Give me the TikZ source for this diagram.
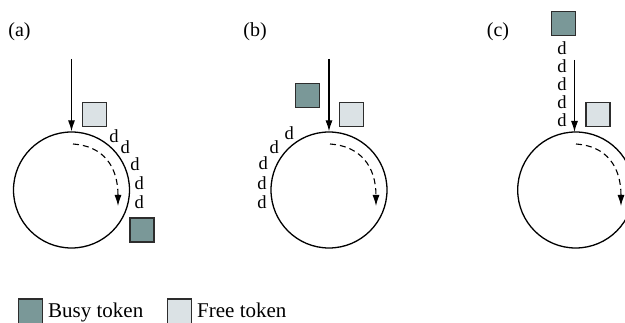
\documentclass[tikz,border=0pt]{standalone}
\usepackage{fontspec}
\setmainfont{Liberation Serif}
\usetikzlibrary{arrows.meta}
\definecolor{busyc}{RGB}{122,152,152}
\definecolor{freec}{RGB}{219,226,229}
\definecolor{edgec}{RGB}{45,45,45}
\tikzset{
  ring/.style={circle, draw=black, line width=1.3pt, minimum size=116pt, inner sep=0pt},
  busytok/.style={draw=edgec, fill=busyc, line width=1.5pt, minimum size=24pt, inner sep=0pt},
  freetok/.style={draw=edgec, fill=freec, line width=1.5pt, minimum size=24pt, inner sep=0pt},
  dlab/.style={inner sep=0pt, font=\fontsize{18.5}{18.5}\selectfont},
  plab/.style={inner sep=0pt, font=\fontsize{20}{20}\selectfont},
  leglab/.style={inner sep=0pt, anchor=base west, font=\fontsize{21}{21}\selectfont},
  feed/.style={line width=1.1pt, -{Latex[length=11pt,width=7pt]}},
  flow/.style={line width=1.1pt, dash pattern=on 6pt off 4pt, -{Latex[length=11pt,width=7pt]}}
}
\begin{document}
\begin{tikzpicture}[x=1pt,y=-1pt]
\useasboundingbox (0,0) rectangle (625,323);
\clip (0,0) rectangle (625,323);
% ---------- (a)
\node[plab] (la) at (19.5,32) {(a)};
\node[ring] (ca) at (71.5,190) {};
\coordinate (sa) at (71.5,59);
\draw[feed] (sa) -- (ca.north);
\node[freetok] (fa) at (94.5,114.5) {};
\node[busytok] (ba) at (142,230) {};
\node[dlab] (a1) at (114,136) {d};
\node[dlab] (a2) at (125.3,147.3) {d};
\node[dlab] (a3) at (135,163.7) {d};
\node[dlab] (a4) at (139.3,183.3) {d};
\node[dlab] (a5) at (139.3,202) {d};
\coordinate (da0) at (73,144);
\coordinate (da1) at (118,206);
\draw[flow] (da0) .. controls (103,146) and (118,166) .. (da1);
% ---------- (b)
\node[plab] (lb) at (255,32) {(b)};
\node[ring] (cb) at (329,190) {};
\coordinate (sb) at (329,59);
\draw[feed] (sb) -- (cb.north);
\node[busytok] (bb) at (307.5,95.5) {};
\node[freetok] (fb) at (351.5,114.5) {};
\node[dlab] (b1) at (289.3,133.3) {d};
\node[dlab] (b2) at (274.3,146.7) {d};
\node[dlab] (b3) at (263.3,163.3) {d};
\node[dlab] (b4) at (262,183.3) {d};
\node[dlab] (b5) at (262,202) {d};
\coordinate (db0) at (330,144);
\coordinate (db1) at (376,206);
\draw[flow] (db0) .. controls (360,146) and (376,166) .. (db1);
% ---------- (c)
\node[plab] (lc) at (498,32) {(c)};
\node[ring] (cc) at (575.7,190) {};
\coordinate (sc) at (574.5,60);
\coordinate (ec) at (574.5,132);
\draw[feed] (sc) -- (ec);
\node[busytok] (bc) at (563.5,23.5) {};
\node[freetok] (fc) at (598,114.5) {};
\node[dlab] (c1) at (562,48) {d};
\node[dlab] (c2) at (562,66) {d};
\node[dlab] (c3) at (562,84) {d};
\node[dlab] (c4) at (562,102.3) {d};
\node[dlab] (c5) at (562,120.6) {d};
\coordinate (dc0) at (576,144);
\coordinate (dc1) at (621,206);
\draw[flow] (dc0) .. controls (606,146) and (621,166) .. (dc1);
% ---------- legend
\node[busytok, minimum height=30pt, anchor=north west] (lbusy) at (17.5,298.5) {};
\node[leglab] (tbusy) at (48,318) {Busy token};
\node[freetok, minimum height=30pt, anchor=north west] (lfree) at (166.5,298.5) {};
\node[leglab] (tfree) at (197,318) {Free token};
\end{tikzpicture}
\end{document}
